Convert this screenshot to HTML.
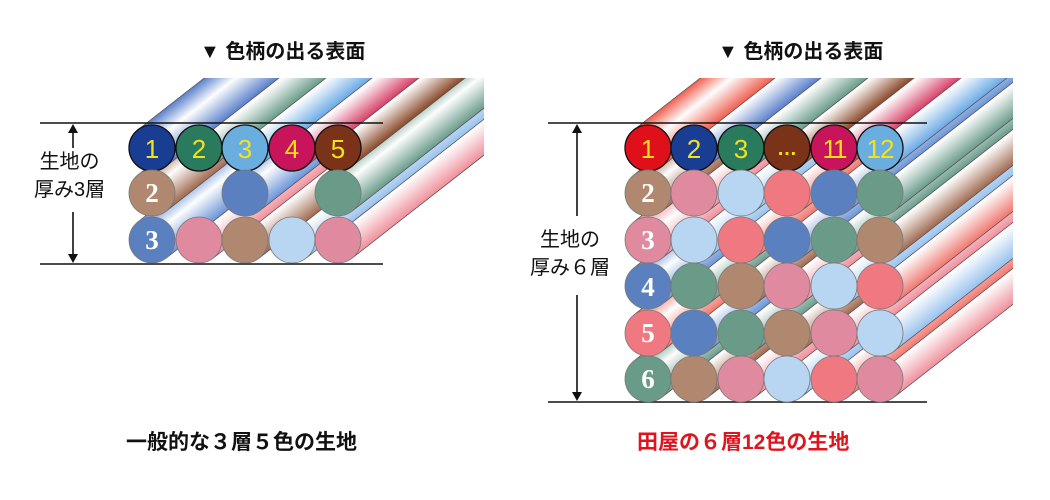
<!DOCTYPE html>
<html><head><meta charset="utf-8">
<style>
html,body{margin:0;padding:0;background:#fff;}
body{width:1050px;height:500px;overflow:hidden;position:relative;font-family:"Liberation Sans","Noto Sans CJK JP",sans-serif;}
.t{position:absolute;white-space:nowrap;color:#111;}
</style></head><body>
<svg id="s" width="1050" height="500" style="position:absolute;left:0;top:0">
<defs id="d">
<clipPath id="cl"><rect x="0" y="78" width="484" height="400"/></clipPath>
<clipPath id="cr"><rect x="520" y="78" width="493" height="400"/></clipPath>
</defs>
<g id="L" clip-path="url(#cl)"></g>
<g id="R" clip-path="url(#cr)"></g>
<g id="C"></g>
<g stroke="#111" stroke-width="1.6" fill="#111">
<line x1="40" y1="123" x2="383" y2="123"/>
<line x1="40" y1="264" x2="383" y2="264"/>
<line x1="73" y1="130" x2="73" y2="148"/>
<line x1="73" y1="212" x2="73" y2="257"/>
<polygon points="73,124 68,133 78,133" stroke="none"/>
<polygon points="73,263 68,254 78,254" stroke="none"/>
<line x1="548" y1="123" x2="927" y2="123"/>
<line x1="548" y1="402" x2="927" y2="402"/>
<line x1="577" y1="130" x2="577" y2="216"/>
<line x1="577" y1="295" x2="577" y2="395"/>
<polygon points="577,124 572,133 582,133" stroke="none"/>
<polygon points="577,401 572,392 582,392" stroke="none"/>
</g>
<g font-family="'Liberation Sans',sans-serif" font-size="26" fill="#f2e21e" text-anchor="middle">
<text x="152" y="158">1</text><text x="199" y="158">2</text><text x="245" y="158">3</text><text x="292" y="158">4</text><text x="338" y="158">5</text>
<text x="648" y="158">1</text><text x="694" y="158">2</text><text x="741" y="158">3</text><text x="787" y="155" font-size="20" font-weight="bold">…</text><text x="834" y="158" letter-spacing="-2">11</text><text x="880" y="158" letter-spacing="-1">12</text>
</g>
<g font-family="'Liberation Serif',serif" font-weight="bold" font-size="27" fill="#fff" text-anchor="middle">
<text x="152" y="202">2</text><text x="152" y="249">3</text>
<text x="648" y="202">2</text><text x="648" y="249">3</text><text x="648" y="296">4</text><text x="648" y="342">5</text><text x="648" y="388">6</text>
</g>
</svg>
<div class="t" style="left:200px;top:35px;font-size:20px;font-weight:bold;">▼ 色柄の出る表面</div>
<div class="t" style="left:718px;top:35px;font-size:20px;font-weight:bold;">▼ 色柄の出る表面</div>
<div class="t" style="left:34px;top:148px;font-size:20px;line-height:28px;text-align:center;">生地の<br>厚み3層</div>
<div class="t" style="left:530px;top:226px;font-size:20px;line-height:28px;text-align:center;">生地の<br>厚み６層</div>
<div class="t" style="left:126px;top:426px;font-size:21px;font-weight:bold;">一般的な３層５色の生地</div>
<div class="t" style="left:637px;top:426px;font-size:21px;font-weight:bold;color:#e0141e;">田屋の６層12色の生地</div>
<script>
var C={nv:'#1a3d94',gr:'#2a7a5e',lb:'#6aaee0',cr:'#c8145a',br:'#7a3318',rd:'#e0101a',tn:'#b08870',pk:'#e08aa0',pb:'#b8d6f2',sa:'#f07880',bl:'#5a80c0',gg:'#6a9a88'};
var R={nv:'#5a80cc',gr:'#6a9c8a',lb:'#6aaae6',cr:'#d8406a',br:'#8a4a2a',rd:'#f06050',tn:'#a06a50',pk:'#f0909c',pb:'#98c2ee',sa:'#f07870',bl:'#6a94d8',gg:'#6a9c8c'};
var ns='http://www.w3.org/2000/svg',d=document.getElementById('d');
for(var k in C){var g=document.createElementNS(ns,'linearGradient');g.id='g'+k;g.setAttribute('x1','0');g.setAttribute('y1','0');g.setAttribute('x2','0');g.setAttribute('y2','1');
g.innerHTML='<stop offset="0" stop-color="'+R[k]+'"/><stop offset="0.42" stop-color="#fdfdfd"/><stop offset="1" stop-color="'+R[k]+'"/>';d.appendChild(g);}
function build(gid,xs,ys,rows){var G=document.getElementById(gid),Cg=document.getElementById('C'),h='',c='';
for(var r=rows.length-1;r>=0;r--){for(var i=xs.length-1;i>=0;i--){var k=rows[r][i];if(!k)continue;
h+='<rect x="0" y="-23" width="400" height="46" fill="url(#g'+k+')" stroke="#5a4a4a" stroke-width="0.7" transform="translate('+xs[i]+','+ys[r]+') rotate(-38)"/>';}}
G.innerHTML=h;
for(var r=0;r<rows.length;r++)for(var i=0;i<xs.length;i++){var k=rows[r][i];if(!k)continue;
c+='<circle cx="'+xs[i]+'" cy="'+ys[r]+'" r="23" fill="'+C[k]+'" stroke="'+(r==0?'#111':'#777')+'" stroke-width="'+(r==0?1.3:0.8)+'"/>';}
Cg.innerHTML+=c;}
build('L',[152,199,245,292,338],[148,193,240],[['nv','gr','lb','cr','br'],['tn',null,'bl',null,'gg'],['bl','pk','tn','pb','pk']]);
build('R',[648,694,741,787,834,880],[148,193,240,286,333,379],[
['rd','nv','gr','br','cr','lb'],['tn','pk','pb','sa','bl','gg'],['pk','pb','sa','bl','gg','tn'],
['bl','gg','tn','pk','pb','sa'],['sa','bl','gg','tn','pk','pb'],['gg','tn','pk','pb','sa','pk']]);
var C2=document.getElementById('C');document.getElementById('s').appendChild(C2);
var tx=document.querySelectorAll('svg > g[font-size]');tx.forEach(function(e){document.getElementById('s').appendChild(e);});
</script>
</body></html>
